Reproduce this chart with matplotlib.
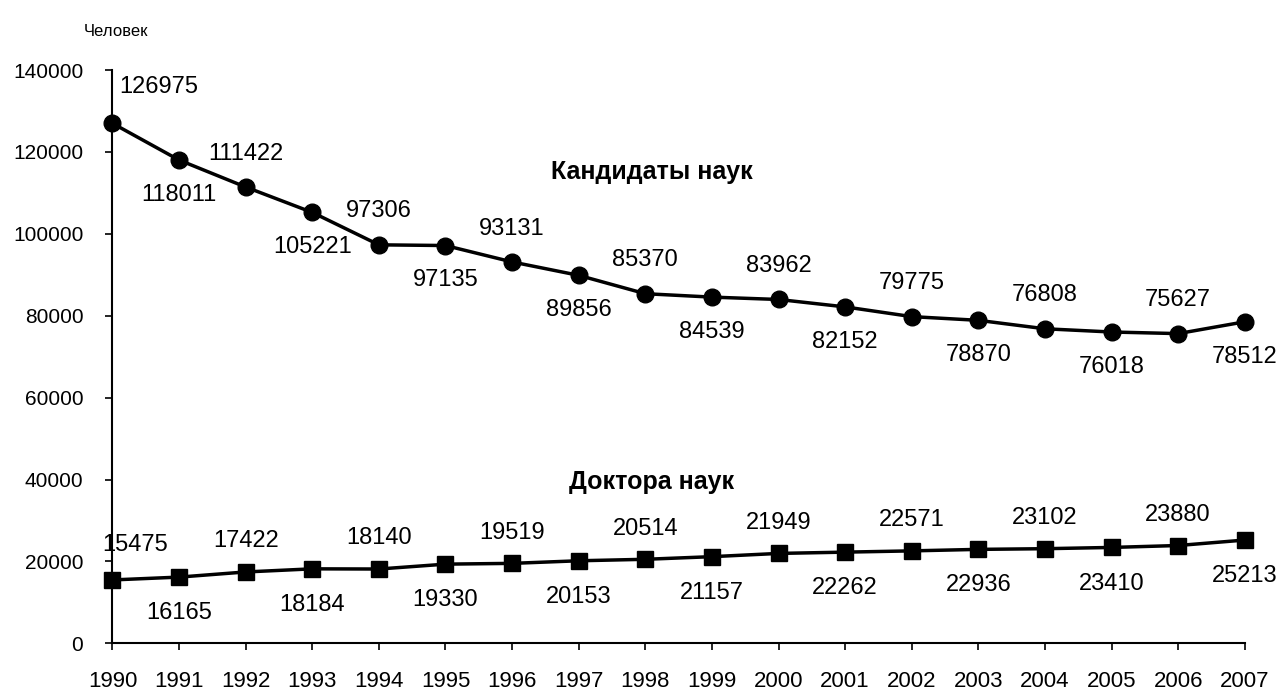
import matplotlib
matplotlib.use('Agg')
import matplotlib.pyplot as plt

years = list(range(1990, 2008))
kandidaty = [126975, 118011, 111422, 105221, 97306, 97135, 93131, 89856, 85370,
             84539, 83962, 82152, 79775, 78870, 76808, 76018, 75627, 78512]
doktora = [15475, 16165, 17422, 18184, 18140, 19330, 19519, 20153, 20514,
           21157, 21949, 22262, 22571, 22936, 23102, 23410, 23880, 25213]
yticks = [0, 20000, 40000, 60000, 80000, 100000, 120000, 140000]

plt.rcParams['font.family'] = ['Liberation Sans', 'DejaVu Sans']

fig = plt.figure(figsize=(12.78, 7), dpi=100)
ax = fig.add_axes([0.088, 0.081, 0.886, 0.819])

ax.plot(years, kandidaty, color='black', lw=2.5, marker='o', ms=12)
ax.plot(years, doktora, color='black', lw=2.5, marker='s', ms=12)

# data labels, alternating above / below
for i, (x, y) in enumerate(zip(years, kandidaty)):
    if i == 0:
        ax.annotate(str(y), (x, y), xytext=(5, 26), textcoords='offset points',
                    ha='left', va='center', fontsize=17)
        continue
    dy = 24 if i % 2 == 0 else -25
    ax.annotate(str(y), (x, y), xytext=(0, dy), textcoords='offset points',
                ha='center', va='center', fontsize=17)

for i, (x, y) in enumerate(zip(years, doktora)):
    if i == 0:
        ax.annotate(str(y), (x, y), xytext=(16, 25), textcoords='offset points',
                    ha='center', va='center', fontsize=17)
        continue
    dy = 22 if i % 2 == 0 else -26
    ax.annotate(str(y), (x, y), xytext=(0, dy), textcoords='offset points',
                ha='center', va='center', fontsize=17)

ax.text(1998.1, 115200, 'Кандидаты наук', ha='center', va='center',
        fontsize=18, fontweight='bold')
ax.text(1998.1, 39400, 'Доктора наук', ha='center', va='center',
        fontsize=18, fontweight='bold')
fig.text(0.091, 0.955, 'Человек', ha='center', va='center', fontsize=12)

ax.set_xlim(1990, 2007)
ax.set_ylim(0, 140000)
ax.set_yticks(yticks)
ax.set_xticks(years)
ax.tick_params(axis='y', direction='out', length=5, width=1.2, pad=16, labelsize=15)
ax.tick_params(axis='x', direction='out', length=5, width=1.2, pad=15, labelsize=16)
ax.spines['top'].set_visible(False)
ax.spines['right'].set_visible(False)
ax.spines['left'].set_linewidth(1.5)
ax.spines['bottom'].set_linewidth(1.5)
for m in ax.lines:
    m.set_clip_on(False)

fig.savefig('out.png', dpi=100)
